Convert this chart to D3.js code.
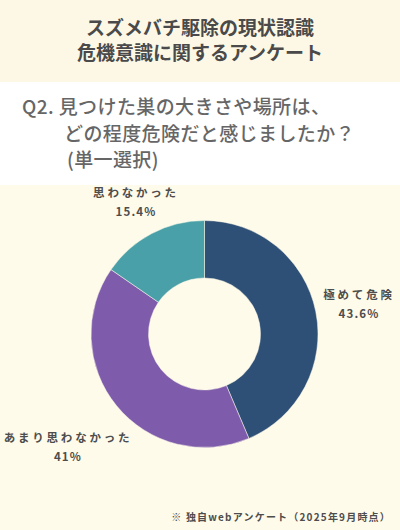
<!DOCTYPE html>
<html>
<head>
<meta charset="utf-8">
<script src="https://cdn.jsdelivr.net/npm/d3@7"></script>
<style>
  body { margin: 0; background: #fffbeb; }
  svg { display: block; }
</style>
</head>
<body>
<div id="chart"></div>
<script>
// Data
const categories = ['極めて危険', 'あまり思わなかった', '思わなかった'];
const values = [43.6, 41, 15.4];
const valueLabels = ['43.6%', '41%', '15.4%'];
const sliceColors = ['#2e5077', '#7e5cab', '#4aa0a8'];

const titleLines = ['スズメバチ駆除の現状認識', '危機意識に関するアンケート'];
const questionLines = ['Q2. 見つけた巣の大きさや場所は、', 'どの程度危険だと感じましたか？', '(単一選択)'];
const footnote = '※ 独自webアンケート（2025年9月時点）';

const width = 400;
const height = 530;
const font = '"Noto Sans CJK JP", "Noto Sans", sans-serif';

const svg = d3.select('#chart')
    .append('svg')
    .attr('width', width)
    .attr('height', height);

// Background bands
svg.append('rect').attr('x', 0).attr('y', 0).attr('width', width).attr('height', height).attr('fill', '#fffbeb');
svg.append('rect').attr('x', 0).attr('y', 0).attr('width', width).attr('height', 82).attr('fill', '#fdf8e6');
svg.append('rect').attr('x', 0).attr('y', 82).attr('width', width).attr('height', 103).attr('fill', '#ffffff');

// Title
svg.selectAll('text.title')
    .data(titleLines)
    .enter()
    .append('text')
    .attr('class', 'title')
    .attr('x', 200)
    .attr('y', (d, i) => 35 + i * 25)
    .attr('text-anchor', 'middle')
    .attr('font-family', font)
    .attr('font-weight', 'bold')
    .attr('font-size', 19)
    .attr('fill', '#4a4a4a')
    .text(d => d);

// Question
const qx = [22, 64, 67];
svg.selectAll('text.question')
    .data(questionLines)
    .enter()
    .append('text')
    .attr('class', 'question')
    .attr('x', (d, i) => qx[i])
    .attr('y', (d, i) => 114 + i * 26.5)
    .attr('font-family', font)
    .attr('font-weight', 500)
    .attr('font-size', 19)
    .attr('letter-spacing', 0.4)
    .attr('fill', '#666666')
    .text(d => d);

// Donut
const cx = 204.5;
const cy = 334;
const outerR = 113.5;
const innerR = 56;

const pie = d3.pie()
    .sort(null)
    .value(d => d);

const arcs = pie(values);

const arc = d3.arc()
    .innerRadius(innerR)
    .outerRadius(outerR);

const g = svg.append('g')
    .attr('transform', `translate(${cx},${cy})`);

g.selectAll('path')
    .data(arcs)
    .enter()
    .append('path')
    .attr('d', arc)
    .attr('fill', (d, i) => sliceColors[i])
    .attr('stroke', '#fffbeb')
    .attr('stroke-width', 0.5);

// Slice labels
const labelPos = [[359, 299], [68, 442], [136, 197]];
const labels = svg.selectAll('g.label')
    .data(arcs)
    .enter()
    .append('g')
    .attr('class', 'label')
    .attr('transform', (d, i) => `translate(${labelPos[i][0]},${labelPos[i][1]})`);

labels.append('text')
    .attr('text-anchor', 'middle')
    .attr('font-family', font)
    .attr('font-weight', 'bold')
    .attr('font-size', 11.5)
    .attr('letter-spacing', 2.8)
    .attr('fill', '#4d4d4d')
    .text((d, i) => categories[i]);

labels.append('text')
    .attr('y', 19)
    .attr('text-anchor', 'middle')
    .attr('font-family', font)
    .attr('font-weight', 'bold')
    .attr('font-size', 11.5)
    .attr('letter-spacing', 1.2)
    .attr('fill', '#4d4d4d')
    .text((d, i) => valueLabels[i]);

// Footnote
svg.append('text')
    .attr('x', 391)
    .attr('y', 521)
    .attr('text-anchor', 'end')
    .attr('font-family', font)
    .attr('font-weight', 'bold')
    .attr('font-size', 10)
    .attr('letter-spacing', 1.2)
    .attr('fill', '#4d4d4d')
    .text(footnote);
</script>
</body>
</html>
